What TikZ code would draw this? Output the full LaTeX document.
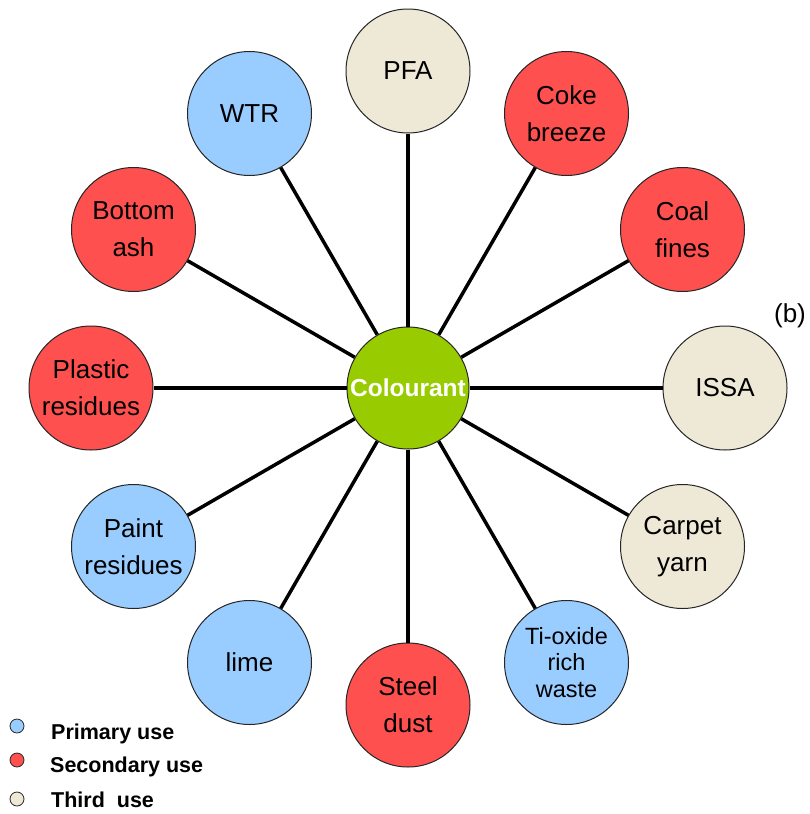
\documentclass[tikz,border=0pt]{standalone}
\usepackage{fontspec}
\setmainfont{Liberation Sans}
\definecolor{primc}{HTML}{99CCFF}
\definecolor{secc}{HTML}{FF5050}
\definecolor{thirdc}{HTML}{EEE8D6}
\definecolor{centc}{HTML}{99CC00}
\begin{document}
\begin{tikzpicture}[x=1pt,y=-1pt,
  usecircle/.style={circle, draw=black!85, line width=1pt, minimum size=124pt, inner sep=0pt, align=center, font=\fontsize{26}{37}\selectfont},
  prim/.style={usecircle, fill=primc},
  sec/.style={usecircle, fill=secc},
  third/.style={usecircle, fill=thirdc},
  conn/.style={line width=3.5pt, black},
  legdot/.style={circle, draw=black!85, line width=0.8pt, minimum size=14pt, inner sep=0pt},
  legtext/.style={anchor=west, inner sep=0pt, font=\fontsize{21.5}{24}\selectfont\bfseries}]
\useasboundingbox (0,0) rectangle (810,814);
\node[circle, draw=black!85, line width=1pt, minimum size=122pt, inner sep=0pt, fill=centc, text=white, font=\fontsize{24.5}{28}\selectfont\bfseries] (c) at (408,388) {Colourant};
\node[third] (pfa) at (408,71) {PFA};
\node[sec] (coke) at (566.5,113.5) {Coke\\breeze};
\node[sec] (coal) at (682.5,229.5) {Coal\\fines};
\node[third] (issa) at (725,388) {ISSA};
\node[third] (carpet) at (682.5,546.5) {Carpet\\yarn};
\node[prim, font=\fontsize{23.5}{26.5}\selectfont] (ti) at (566.5,662.5) {Ti-oxide\\rich\\waste};
\node[sec] (steel) at (408,705) {Steel\\dust};
\node[prim] (lime) at (249.5,662.5) {lime};
\node[prim] (paint) at (133.5,546.5) {Paint\\residues};
\node[sec] (plastic) at (91,388) {Plastic\\residues};
\node[sec] (bottom) at (133.5,229.5) {Bottom\\ash};
\node[prim] (wtr) at (249.5,113.5) {WTR};
\foreach \n in {pfa,coke,coal,issa,carpet,ti,steel,lime,paint,plastic,bottom,wtr}
  \draw[conn] (c) -- (\n);
\node[font=\fontsize{26}{30}\selectfont] (b) at (790,316) {(b)};
\node[legdot, fill=primc] (l1) at (17,726) {};
\node[legdot, fill=secc] (l2) at (17,760) {};
\node[legdot, fill=thirdc] (l3) at (17,799) {};
\node[legtext] (t1) at (51,734) {Primary use};
\node[legtext] (t2) at (50,767) {Secondary use};
\node[legtext] (t3) at (51,800) {Third\ \ use};
\end{tikzpicture}
\end{document}
